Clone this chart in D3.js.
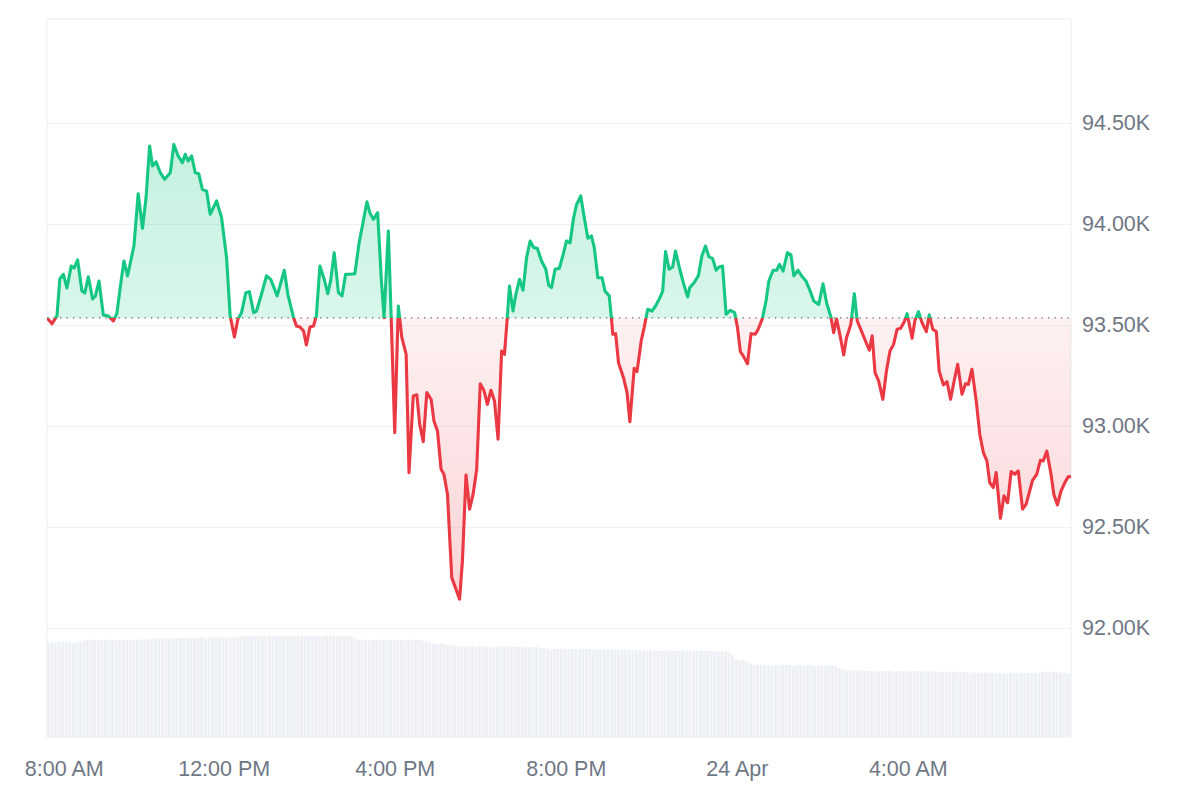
<!doctype html>
<html>
<head>
<meta charset="utf-8"/>
<title>BTC 24h price</title>
<script src="https://cdnjs.cloudflare.com/ajax/libs/d3/7.8.5/d3.min.js"></script>
<style>
  body { margin: 0; background: #fff; }
  svg { display: block; font-family: "Liberation Sans", Arial, Helvetica, sans-serif; }
</style>
</head>
<body>
<svg width="1200" height="800"></svg>
<script>
// price points: minutes after 07:52 on 23 Apr, and price in USD
var minutes = [0,7,14,18,23,28,34,38,43,49,53,58,64,68,73,79,86,93,98,104,108,113,117,122,128,134,139,144,148,153,159,165,173,178,184,190,194,198,203,208,213,218,224,229,238,245,252,257,263,268,273,279,284,290,294,301,308,314,323,333,338,346,350,355,360,364,369,374,378,383,389,394,398,403,409,414,419,425,432,438,443,449,453,458,464,469,473,479,483,488,493,498,504,508,514,519,523,528,533,539,543,548,553,557,562,568,579,583,588,593,598,603,608,613,618,623,628,633,638,642,646,649,654,658,663,668,673,678,683,688,694,700,704,708,713,719,725,729,734,739,743,749,754,759,764,768,773,779,783,789,792,794,798,802,809,814,818,824,828,834,838,843,849,854,859,864,868,873,878,882,888,893,899,902,908,914,919,924,929,934,939,943,948,953,959,965,969,973,977,983,988,994,998,1004,1009,1013,1019,1024,1028,1033,1039,1044,1048,1054,1059,1065,1071,1076,1083,1089,1094,1100,1104,1108,1113,1118,1122,1128,1133,1137,1143,1149,1154,1158,1162,1167,1173,1178,1183,1188,1193,1198,1203,1207,1214,1218,1223,1228,1234,1238,1243,1248,1252,1258,1263,1268,1273,1278,1284,1289,1293,1298,1304,1309,1314,1319,1323,1328,1332,1338,1343,1348,1353,1358,1363,1369,1374,1383,1389,1394,1398,1403,1409,1413,1418,1423,1429,1433,1437]
var prices = [93535,93506,93545,93728,93751,93683,93792,93782,93822,93668,93658,93739,93629,93644,93718,93550,93545,93520,93556,93718,93817,93743,93808,93891,94150,93979,94130,94386,94287,94308,94254,94221,94254,94394,94337,94303,94345,94312,94337,94254,94249,94172,94163,94048,94114,94031,93833,93545,93441,93530,93561,93660,93665,93561,93569,93652,93743,93726,93644,93771,93652,93536,93495,93490,93470,93401,93490,93495,93545,93792,93726,93655,93718,93858,93660,93644,93751,93751,93754,93907,93998,94110,94056,94023,94056,93734,93536,93965,93536,92967,93594,93437,93355,92769,93149,93154,93008,92922,93165,93132,93025,92975,92786,92761,92662,92249,92142,92332,92757,92588,92662,92786,93209,93177,93107,93177,93124,92934,93371,93355,93540,93693,93569,93652,93726,93672,93833,93916,93883,93880,93817,93776,93697,93685,93776,93781,93858,93916,93907,94031,94094,94139,94031,93929,93941,93883,93734,93734,93668,93644,93536,93454,93457,93313,93239,93165,93021,93286,93269,93424,93487,93578,93569,93594,93627,93668,93863,93776,93787,93866,93776,93709,93639,93685,93709,93743,93842,93891,93837,93830,93771,93787,93792,93553,93573,93561,93487,93368,93347,93308,93457,93454,93479,93533,93619,93718,93771,93771,93800,93767,93858,93847,93743,93771,93743,93718,93668,93619,93602,93704,93610,93540,93462,93530,93446,93352,93437,93503,93655,93520,93470,93417,93375,93446,93264,93223,93132,93272,93371,93404,93479,93484,93516,93556,93434,93523,93566,93511,93467,93550,93479,93467,93272,93203,93219,93132,93223,93305,93157,93209,93206,93281,93124,92959,92868,92827,92719,92695,92769,92543,92654,92620,92774,92761,92777,92588,92612,92731,92761,92830,92827,92876,92761,92659,92609,92678,92724,92748,92750]

// 24h volume (billion USD), one bar every 5 minutes, one row per hour
var volumes = [
  37.9,38.1,37.6,38.0,38.2,37.8,38.0,37.7,38.1,38.3,38.6,38.8,
  38.7,38.9,38.8,38.6,38.9,39.0,38.8,38.7,38.9,38.8,39.0,38.9,
  38.9,39.0,38.8,39.1,39.0,39.2,39.4,39.3,39.5,39.6,39.4,39.6,
  39.6,39.7,39.5,39.6,39.8,39.6,39.7,39.9,39.6,39.8,39.7,39.8,
  39.7,39.8,39.6,39.9,40.2,39.8,40.1,40.4,40.3,40.5,40.4,40.6,
  40.4,40.5,40.6,40.4,40.5,40.3,40.6,40.4,40.5,40.4,40.6,40.5,
  40.5,40.4,40.6,40.5,40.3,40.4,40.5,40.6,40.4,40.5,40.3,40.4,
  40.4,40.3,39.2,38.9,38.8,38.9,38.7,38.8,38.9,38.7,38.8,38.9,
  38.8,38.7,38.9,38.8,38.6,38.8,38.9,38.7,38.8,38.5,38.3,37.8,
  37.4,37.2,37.3,37.0,36.8,36.6,36.4,36.5,36.3,36.5,36.2,36.4,
  36.1,36.3,36.0,36.2,35.9,36.1,36.0,36.3,35.9,36.1,36.2,36.0,
  36.1,35.9,36.2,36.0,35.8,36.1,35.7,35.6,35.4,35.3,35.2,35.3,
  35.2,35.4,35.1,35.3,35.2,35.0,35.3,35.1,35.2,35.0,35.1,35.2,
  35.0,34.9,35.1,34.8,34.9,34.7,34.9,34.8,34.6,34.8,34.7,34.5,
  34.4,34.6,34.3,34.5,34.4,34.6,34.3,34.4,34.5,34.3,34.6,34.4,
  34.5,34.3,34.4,34.6,34.4,34.5,34.3,34.4,34.2,34.3,34.1,34.0,
  33.0,31.2,30.6,30.8,30.2,29.5,29.0,28.8,29.0,28.7,28.9,28.6,
  28.8,28.6,28.9,28.7,28.8,28.5,28.7,28.9,28.6,28.8,28.7,28.5,
  28.7,28.5,28.6,28.4,28.6,28.3,27.5,27.0,26.6,26.8,26.5,26.4,
  26.6,26.3,26.5,26.4,26.2,26.5,26.3,26.4,26.6,26.2,26.4,26.3,
  26.4,26.2,26.5,26.3,26.4,26.1,26.3,26.2,26.4,26.0,26.2,26.1,
  26.0,26.2,25.9,26.1,25.8,26.0,25.9,25.7,25.9,25.8,25.7,25.9,
  25.6,25.8,25.5,25.7,25.6,25.4,25.7,25.5,25.6,25.8,25.5,25.6,
  25.7,25.5,25.8,26.0,26.1,25.9,26.2,26.0,25.8,25.6,25.4,25.5
]

var priceTicks = [92000, 92500, 93000, 93500, 94000, 94500]

var green = "#16c784", red = "#ea3943", textColor = "#6f7785"
var plotL = 47, plotR = 1071, plotT = 19, plotB = 737

var start = new Date(2025, 3, 23, 7, 52)
var end = d3.timeMinute.offset(start, 1437)

var data = minutes.map((m, i) => ({ t: d3.timeMinute.offset(start, m), p: prices[i] }))
var volData = volumes.map((v, i) => ({ t: d3.timeMinute.offset(start, i * 5), v: v }))

var x = d3.scaleTime().domain([start, end]).range([plotL, plotR])
var y = d3.scaleLinear().domain([91460, 95015]).range([plotB, plotT])
var yVol = d3.scaleLinear().domain([0, 40]).range([plotB, 637])

var base = prices[0]
var yb = y(base)

var svg = d3.select("svg")
var defs = svg.append("defs")

defs.append("clipPath").attr("id", "plot")
  .append("rect").attr("x", plotL).attr("y", plotT).attr("width", plotR - plotL).attr("height", plotB - plotT)
defs.append("clipPath").attr("id", "above")
  .append("rect").attr("x", plotL).attr("y", plotT - 5).attr("width", plotR - plotL + 3).attr("height", yb - plotT + 5)
defs.append("clipPath").attr("id", "below")
  .append("rect").attr("x", plotL).attr("y", yb).attr("width", plotR - plotL + 3).attr("height", plotB - yb + 5)

var gUp = defs.append("linearGradient").attr("id", "gUp")
  .attr("gradientUnits", "userSpaceOnUse").attr("x1", 0).attr("x2", 0).attr("y1", plotT).attr("y2", yb)
gUp.append("stop").attr("offset", 0).attr("stop-color", green).attr("stop-opacity", 0.32)
gUp.append("stop").attr("offset", 1).attr("stop-color", green).attr("stop-opacity", 0.16)

var gDown = defs.append("linearGradient").attr("id", "gDown")
  .attr("gradientUnits", "userSpaceOnUse").attr("x1", 0).attr("x2", 0).attr("y1", yb).attr("y2", 600)
gDown.append("stop").attr("offset", 0).attr("stop-color", red).attr("stop-opacity", 0.07)
gDown.append("stop").attr("offset", 1).attr("stop-color", red).attr("stop-opacity", 0.22)

// grid lines
svg.append("g")
  .attr("transform", "translate(" + plotL + ",0)")
  .call(d3.axisLeft(y).tickValues(priceTicks).tickSize(-(plotR - plotL)).tickFormat(""))
  .call(g => g.select(".domain").remove())
  .call(g => g.selectAll("line").attr("stroke", "#eef0f3"))

// frame
svg.append("rect")
  .attr("x", plotL).attr("y", plotT).attr("width", plotR - plotL).attr("height", plotB - plotT)
  .attr("fill", "none").attr("stroke", "#eceef1")

// volume bars
var bw = x(d3.timeMinute.offset(start, 5)) - x(start)
svg.append("g").attr("clip-path", "url(#plot)")
  .selectAll("rect").data(volData).enter().append("rect")
  .attr("x", d => x(d.t))
  .attr("width", bw - 0.6)
  .attr("y", d => yVol(d.v))
  .attr("height", d => plotB - yVol(d.v))
  .attr("fill", "#edf0f4")

// areas
var area = d3.area().x(d => x(d.t)).y0(yb).y1(d => y(d.p))
svg.append("path").datum(data).attr("clip-path", "url(#above)")
  .attr("d", area).attr("fill", "url(#gUp)")
svg.append("path").datum(data).attr("clip-path", "url(#below)")
  .attr("d", area).attr("fill", "url(#gDown)")

// baseline (opening price)
svg.append("line")
  .attr("x1", plotL).attr("x2", plotR).attr("y1", yb).attr("y2", yb)
  .attr("stroke", "#5d6470").attr("stroke-width", 1.3).attr("stroke-dasharray", "1.3,5.2")

// price line
var line = d3.line().x(d => x(d.t)).y(d => y(d.p))
svg.append("path").datum(data).attr("clip-path", "url(#above)")
  .attr("d", line).attr("fill", "none").attr("stroke", green)
  .attr("stroke-width", 3.1).attr("stroke-linejoin", "round")
svg.append("path").datum(data).attr("clip-path", "url(#below)")
  .attr("d", line).attr("fill", "none").attr("stroke", red)
  .attr("stroke-width", 3.1).attr("stroke-linejoin", "round")

// right axis labels
svg.append("g")
  .attr("transform", "translate(" + plotR + ",0)")
  .call(d3.axisRight(y).tickValues(priceTicks).tickSize(0).tickPadding(11)
    .tickFormat(d => (d / 1000).toFixed(2) + "K"))
  .call(g => g.select(".domain").remove())
  .call(g => g.selectAll("text").attr("fill", textColor).style("font-size", "21.5px")
    .style("font-family", "'Liberation Sans', Arial, sans-serif"))

// time axis labels
var fmtTime = d3.timeFormat("%-I:%M %p"), fmtDay = d3.timeFormat("%-d %b")
svg.append("g")
  .attr("transform", "translate(0," + plotB + ")")
  .call(d3.axisBottom(x).ticks(d3.timeHour.every(4)).tickSize(0)
    .tickFormat(d => d.getHours() === 0 ? fmtDay(d) : fmtTime(d)))
  .call(g => g.select(".domain").remove())
  .call(g => g.selectAll("text").attr("fill", textColor).style("font-size", "21.5px")
    .style("font-family", "'Liberation Sans', Arial, sans-serif")
    .attr("y", 39).attr("dy", null)
    .attr("dx", (d, i) => i === 0 ? 11 : 0))
</script>
</body>
</html>
